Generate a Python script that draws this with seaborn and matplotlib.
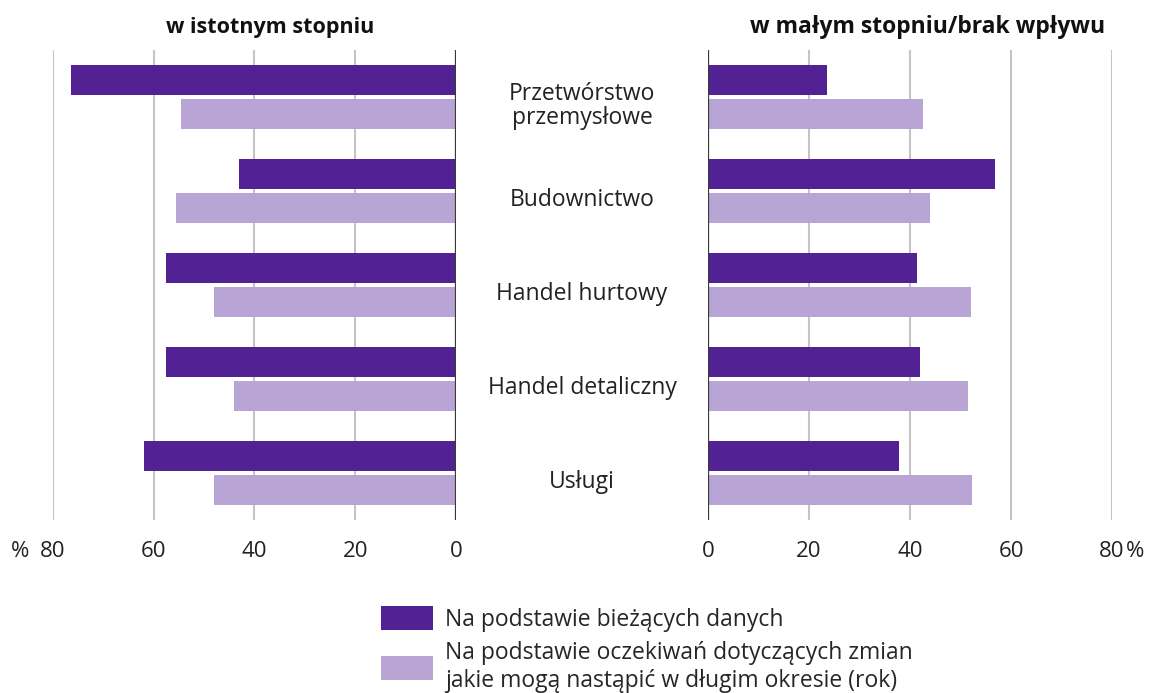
import pandas as pd
import matplotlib.pyplot as plt
import seaborn as sns
from matplotlib.patches import Patch

sectors = ["Przetwórstwo\nprzemysłowe", "Budownictwo", "Handel hurtowy",
           "Handel detaliczny", "Usługi"]
series = ["Na podstawie bieżących danych",
          "Na podstawie oczekiwań dotyczących zmian\njakie mogą nastąpić w długim okresie (rok)"]

# w istotnym stopniu
strong_now = [76.5, 43.0, 57.5, 57.5, 62.0]
strong_long = [54.5, 55.5, 48.0, 44.0, 48.0]
# w małym stopniu / brak wpływu
weak_now = [23.5, 56.8, 41.3, 42.0, 37.8]
weak_long = [42.6, 44.0, 52.0, 51.5, 52.2]

ticks = [0, 20, 40, 60, 80]
colors = ["#522295", "#b8a5d5"]


def to_long(now, long_):
    return pd.DataFrame({
        "sector": sectors * 2,
        "value": now + long_,
        "series": [series[0]] * len(sectors) + [series[1]] * len(sectors),
    })


sns.set_theme(style="white")
plt.rcParams["font.family"] = ["Open Sans", "DejaVu Sans"]

fig = plt.figure(figsize=(11.5, 6.93), dpi=100)
ax_l = fig.add_axes([0.0461, 0.2496, 0.3504, 0.678])
ax_r = fig.add_axes([0.6157, 0.2496, 0.3513, 0.678])

for ax, now, long_ in [(ax_l, strong_now, strong_long), (ax_r, weak_now, weak_long)]:
    sns.barplot(data=to_long(now, long_), y="sector", x="value", hue="series",
                palette=colors, saturation=1, orient="h", width=0.72, gap=0.12,
                linewidth=0, legend=False, ax=ax, zorder=3)
    ax.set_xlim(0, 80)
    ax.set_ylim(4.5, -0.5)
    ax.set_xticks(ticks)
    ax.set_xticklabels([str(t) for t in ticks], fontsize=16, color="#222222")
    ax.set_yticks([])
    ax.set_xlabel("")
    ax.set_ylabel("")
    ax.tick_params(axis="x", length=0, pad=15)
    ax.grid(axis="x", color="#c4c4c4", lw=1.5, zorder=0)
    ax.axvline(0, color="#3a3a3a", lw=1.6, zorder=4)
    sns.despine(ax=ax, left=True, bottom=True)

ax_l.invert_xaxis()

# category labels between the panels
for i, s in enumerate(sectors):
    fig.text(582 / 1150, 1 - (98 + 94 * i + 8) / 693, s, ha="center", va="center",
             fontsize=16.5, color="#222222", linespacing=1.0)

fig.text(270 / 1150, 1 - 27 / 693, "w istotnym stopniu", ha="center", va="center",
         fontsize=15.5, fontweight="bold", color="#111111")
fig.text(928 / 1150, 1 - 27 / 693, "w małym stopniu/brak wpływu", ha="center",
         va="center", fontsize=16.5, fontweight="bold", color="#111111")

ax_l.annotate("%", xy=(80, 0), xycoords=("data", "axes fraction"), xytext=(-17, -15),
              textcoords="offset points", ha="right", va="top", fontsize=16, color="#222222")
ax_r.annotate("%", xy=(80, 0), xycoords=("data", "axes fraction"), xytext=(10, -15),
              textcoords="offset points", ha="left", va="top", fontsize=16, color="#222222")

handles = [Patch(facecolor=c, edgecolor="none") for c in colors]
fig.legend(handles, series, loc="upper left", bbox_to_anchor=(372 / 1150, 1 - 597 / 693),
           frameon=False, fontsize=16.5, handlelength=2.26, handleheight=1.22,
           handletextpad=0.52, labelspacing=0.4, borderaxespad=0)

fig.savefig("out.png", dpi=100)
